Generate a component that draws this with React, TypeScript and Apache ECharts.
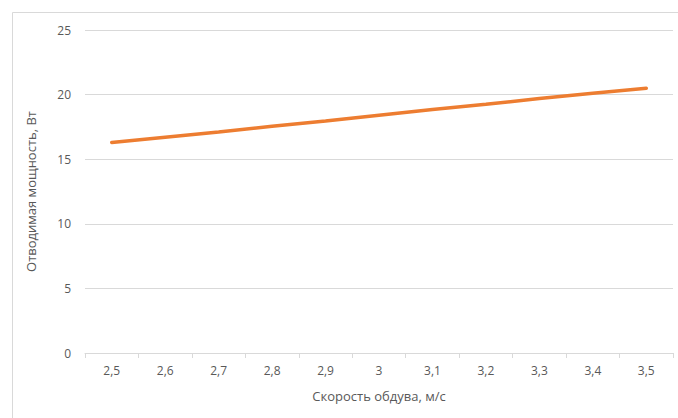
import React, { useEffect, useRef } from "react";
import * as echarts from "echarts";

// Airflow speed, m/s (category labels use a decimal comma)
const speeds: string[] = ["2,5", "2,6", "2,7", "2,8", "2,9", "3", "3,1", "3,2", "3,3", "3,4", "3,5"];
// Dissipated power, W
const power: number[] = [16.3, 16.7, 17.1, 17.55, 17.95, 18.4, 18.85, 19.25, 19.7, 20.1, 20.5];

const yMin = 0;
const yMax = 25;
const yStep = 5;

const xTitle = "Скорость обдува, м/с";
const yTitle = "Отводимая мощность, Вт";

const FONT = "'Open Sans', 'Noto Sans', sans-serif";
const TEXT = "#595959";
const GRID = "#d9d9d9";

export default function App() {
  const ref = useRef<HTMLDivElement>(null);

  useEffect(() => {
    if (!ref.current) return;
    const chart = echarts.init(ref.current, undefined, { renderer: "svg" });
    chart.setOption({
      animation: false,
      backgroundColor: "#ffffff",
      textStyle: { fontFamily: FONT },
      graphic: [
        {
          type: "rect",
          z: -10,
          silent: true,
          shape: { x: 12.5, y: 12.5, width: 700, height: 500 },
          style: { fill: "none", stroke: GRID, lineWidth: 1 },
        },
      ],
      grid: { left: 85, right: 5, top: 30, bottom: 65 },
      xAxis: {
        type: "category",
        data: speeds,
        boundaryGap: true,
        name: xTitle,
        nameLocation: "middle",
        nameGap: 36,
        nameTextStyle: { color: TEXT, fontSize: 13, fontFamily: FONT },
        axisLine: { show: true, lineStyle: { color: GRID, width: 1 } },
        axisTick: { show: true, length: 5, lineStyle: { color: GRID } },
        axisLabel: { color: TEXT, fontSize: 12, margin: 11, fontFamily: FONT },
        splitLine: { show: false },
      },
      yAxis: {
        type: "value",
        min: yMin,
        max: yMax,
        interval: yStep,
        name: yTitle,
        nameLocation: "middle",
        nameGap: 48,
        nameTextStyle: { color: TEXT, fontSize: 13, fontFamily: FONT },
        axisLine: { show: false },
        axisTick: { show: false },
        axisLabel: { color: TEXT, fontSize: 12, margin: 14, fontFamily: FONT },
        splitLine: { show: true, lineStyle: { color: GRID, width: 1 } },
      },
      series: [
        {
          type: "line",
          data: power,
          symbol: "none",
          smooth: false,
          lineStyle: { color: "#ED7D31", width: 3.5, cap: "round" },
          itemStyle: { color: "#ED7D31" },
        },
      ],
    });
    return () => chart.dispose();
  }, []);

  return (
    <div
      ref={ref}
      style={{ position: "absolute", left: 0, top: 0, width: 678, height: 418 }}
    />
  );
}
